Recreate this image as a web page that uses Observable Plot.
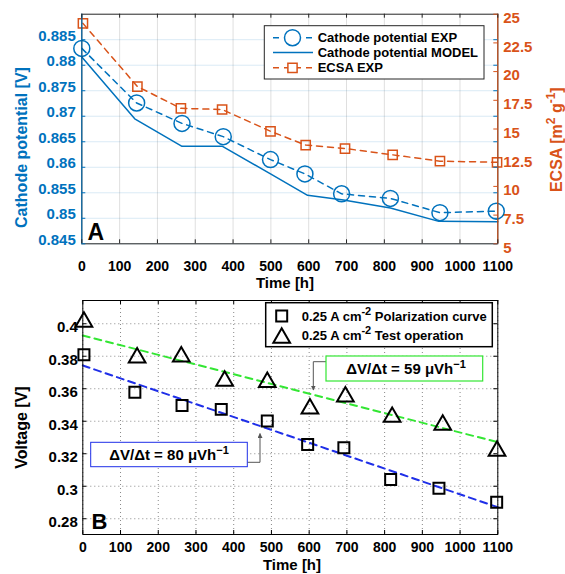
<!DOCTYPE html>
<html><head><meta charset="utf-8">
<script src="https://cdn.jsdelivr.net/npm/d3@7"></script>
<script src="https://cdn.jsdelivr.net/npm/@observablehq/plot@0.6"></script>
<style>
html,body{margin:0;padding:0;background:#fff;}
#wrap{width:565px;height:574px;overflow:hidden;}
#wrap svg{display:block;}
</style></head><body><div id="wrap"></div>
<script>
// ---------- Panel A data ----------
const xTicks = [0, 100, 200, 300, 400, 500, 600, 700, 800, 900, 1000, 1100];
const timeCathodeExp = [0, 145, 265, 374, 499, 590, 687, 816, 947, 1096];
const cathodeExp = [0.8833, 0.8726, 0.8686, 0.8660, 0.8615, 0.8587, 0.8548, 0.8539, 0.8511, 0.8514];
const timeModel = [0, 140, 265, 372, 499, 597, 692, 816, 944, 1100];
const cathodeModel = [0.8816, 0.8695, 0.8641, 0.8641, 0.8587, 0.8545, 0.8536, 0.8520, 0.8494, 0.8493];
const timeEcsa = [3, 147, 262, 371, 499, 592, 696, 822, 947, 1098];
const ecsaExp = [24.2, 18.7, 16.8, 16.7, 14.8, 13.6, 13.3, 12.75, 12.2, 12.1];
const leftTicksA = [0.845, 0.85, 0.855, 0.86, 0.865, 0.87, 0.875, 0.88, 0.885];
const leftTickLabelsA = ["0.845", "0.85", "0.855", "0.86", "0.865", "0.87", "0.875", "0.88", "0.885"];
const rightTicksA = [5, 7.5, 10, 12.5, 15, 17.5, 20, 22.5, 25];
const rightTickLabelsA = ["5", "7.5", "10", "12.5", "15", "17.5", "20", "22.5", "25"];
const legendLabelsA = ["Cathode potential EXP", "Cathode potential MODEL", "ECSA EXP"];

// ---------- Panel B data ----------
const timePol = [3, 138, 263, 367, 489, 596, 692, 816, 944, 1097];
const voltPol = [0.3809, 0.3579, 0.3497, 0.3473, 0.3401, 0.3257, 0.3237, 0.3042, 0.2988, 0.2902];
const timeTest = [3, 144, 261, 376, 489, 602, 696, 820, 954, 1098];
const voltTest = [0.4026, 0.3805, 0.3811, 0.3662, 0.3655, 0.3491, 0.3565, 0.3440, 0.3391, 0.3231];
const fitPolTime = [0, 1100];
const fitPolVolt = [0.3743, 0.2871];
const fitTestTime = [0, 1100];
const fitTestVolt = [0.3928, 0.3271];
const leftTicksB = [0.28, 0.30, 0.32, 0.34, 0.36, 0.38, 0.40];
const leftTickLabelsB = ["0.28", "0.3", "0.32", "0.34", "0.36", "0.38", "0.4"];
const slopeLabels = ["80", "59"];

// ---------- styling ----------
const BLUE = "#0072BD", ORANGE = "#D95319", DARK = "#262626";
const FONT = '"Liberation Sans", Arial, Helvetica, sans-serif';
const W = 565;
const xDomain = [0, 1100];
const leftDomainA = [0.845, 0.89];
const ecsaDomain = [5, 25];
const ecsaToV = d3.scaleLinear(ecsaDomain, leftDomainA);
const yDomainB = [0.2703, 0.4143];
const TL = 4;
const lookup = (ticks, labels) => d => labels[ticks.findIndex(t => Math.abs(t - d) < 1e-9)];

const A = {h: 290, ml: 81.3, mr: 67.7, mt: 13.7, mb: 46.7};
const aH = A.h - A.mt - A.mb, aW = W - A.ml - A.mr;

const A_exp = timeCathodeExp.map((t, i) => ({time: t, value: cathodeExp[i]}));
const A_model = timeModel.map((t, i) => ({time: t, value: cathodeModel[i]}));
const A_ecsa = timeEcsa.map((t, i) => ({time: t, value: ecsaToV(ecsaExp[i])}));
const rightTickPos = rightTicksA.map(ecsaToV);

const chartA = Plot.plot({
  width: W, height: A.h, marginLeft: A.ml, marginRight: A.mr, marginTop: A.mt, marginBottom: A.mb,
  style: {fontFamily: FONT, background: "white", overflow: "visible"},
  x: {domain: xDomain}, y: {domain: leftDomainA},
  marks: [
    Plot.gridX(xTicks, {stroke: DARK, strokeOpacity: 0.15}),
    Plot.gridY(leftTicksA, {stroke: BLUE, strokeOpacity: 0.15}),
    Plot.line(A_ecsa, {x: "time", y: "value", stroke: ORANGE, strokeWidth: 1.5, strokeDasharray: "6,5"}),
    Plot.dot(A_ecsa, {x: "time", y: "value", symbol: "square", r: 5.2, stroke: ORANGE, strokeWidth: 1.5, fill: "none"}),
    Plot.line(A_exp, {x: "time", y: "value", stroke: BLUE, strokeWidth: 1.5, strokeDasharray: "6,5"}),
    Plot.dot(A_exp, {x: "time", y: "value", r: 8, stroke: BLUE, strokeWidth: 1.5, fill: "none"}),
    Plot.line(A_model, {x: "time", y: "value", stroke: BLUE, strokeWidth: 1.5}),
    Plot.frame({stroke: DARK}),
    Plot.ruleX([xDomain[0]], {stroke: BLUE}),
    Plot.ruleX([xDomain[1]], {stroke: ORANGE}),
    Plot.tickX(xTicks, {x: d => d, stroke: DARK, insetTop: aH - TL}),
    Plot.tickX(xTicks, {x: d => d, stroke: DARK, insetBottom: aH - TL}),
    Plot.tickY(leftTicksA, {y: d => d, stroke: BLUE, insetRight: aW - TL}),
    Plot.tickY(leftTicksA, {y: d => d, stroke: BLUE, insetLeft: aW - TL}),
    Plot.tickY(rightTickPos, {y: d => d, stroke: ORANGE, insetLeft: aW - TL}),
    Plot.axisX(xTicks, {tickSize: 0, tickPadding: 17.5, fontSize: 14, fontWeight: "bold", color: "black", label: null, tickFormat: d => String(d)}),
    Plot.axisY(leftTicksA, {anchor: "left", tickSize: 0, tickPadding: 6, fontSize: 15, fontWeight: "bold", color: BLUE, dy: -4, label: null, tickFormat: lookup(leftTicksA, leftTickLabelsA)}),
    Plot.axisY(rightTickPos, {anchor: "right", tickSize: 0, tickPadding: 5.4, fontSize: 15, fontWeight: "bold", color: ORANGE, dy: 4, label: null, tickFormat: lookup(rightTickPos, rightTickLabelsA)})
  ]
});

// ---------- Panel B ----------
const B = {h: 284, ml: 82.3, mr: 67.7, mt: 10, mb: 40};
const bH = B.h - B.mt - B.mb, bW = W - B.ml - B.mr;
const B_pol = timePol.map((t, i) => ({time: t, value: voltPol[i]}));
const B_test = timeTest.map((t, i) => ({time: t, value: voltTest[i]}));
const B_fitPol = fitPolTime.map((t, i) => ({time: t, value: fitPolVolt[i]}));
const B_fitTest = fitTestTime.map((t, i) => ({time: t, value: fitTestVolt[i]}));
const FIT_BLUE = "#1f2fe8", FIT_GREEN = "#33e633";

const chartB = Plot.plot({
  width: W, height: B.h, marginLeft: B.ml, marginRight: B.mr, marginTop: B.mt, marginBottom: B.mb,
  style: {fontFamily: FONT, background: "white", overflow: "visible"},
  x: {domain: xDomain}, y: {domain: yDomainB},
  marks: [
    Plot.gridX(xTicks, {stroke: "#555", strokeOpacity: 0.7, strokeDasharray: "1,3"}),
    Plot.gridY(leftTicksB, {stroke: "#555", strokeOpacity: 0.7, strokeDasharray: "1,3"}),
    Plot.line(B_fitTest, {x: "time", y: "value", stroke: FIT_GREEN, strokeWidth: 2, strokeDasharray: "7,5"}),
    Plot.line(B_fitPol, {x: "time", y: "value", stroke: FIT_BLUE, strokeWidth: 2, strokeDasharray: "7,5"}),
    Plot.dot(B_pol, {x: "time", y: "value", symbol: "square", r: 6.2, stroke: "black", strokeWidth: 2, fill: "none"}),
    Plot.dot(B_test, {x: "time", y: "value", symbol: "triangle", r: 6.2, dy: 2.3, stroke: "black", strokeWidth: 2, fill: "none"}),
    Plot.frame({stroke: "black"}),
    Plot.tickX(xTicks, {x: d => d, stroke: "black", insetTop: bH - TL}),
    Plot.tickX(xTicks, {x: d => d, stroke: "black", insetBottom: bH - TL}),
    Plot.tickY(leftTicksB, {y: d => d, stroke: "black", insetRight: bW - TL}),
    Plot.tickY(leftTicksB, {y: d => d, stroke: "black", insetLeft: bW - TL}),
    Plot.axisX(xTicks, {tickSize: 0, tickPadding: 7.5, fontSize: 14, fontWeight: "bold", color: "black", label: null, tickFormat: d => String(d)}),
    Plot.axisY(leftTicksB, {anchor: "left", tickSize: 0, tickPadding: 5, fontSize: 15, fontWeight: "bold", color: "black", dy: 3.5, label: null, tickFormat: lookup(leftTicksB, leftTickLabelsB)})
  ]
});

const wrap = document.getElementById("wrap");
wrap.appendChild(chartA);
wrap.appendChild(chartB);

// ---------- decorations A ----------
function addText(g, o) {
  const t = g.append("text")
    .attr("font-family", FONT).attr("font-weight", "bold")
    .attr("font-size", o.size).attr("fill", o.fill || "black")
    .attr("text-anchor", o.anchor || "start")
    .attr("transform", `translate(${o.x},${o.y})` + (o.rotate ? ` rotate(${o.rotate})` : ""));
  o.parts.forEach(p => {
    const ts = t.append("tspan").text(p.t);
    if (p.sup) ts.attr("dy", -p.sup).attr("font-size", p.supSize || o.size * 0.75);
    if (p.down) ts.attr("dy", p.down);
  });
  return t;
}
const sA = d3.select(chartA).append("g");
addText(sA, {x: 26.5, y: 147.5, size: 16, fill: BLUE, anchor: "middle", rotate: -90, parts: [{t: "Cathode potential [V]"}]});
addText(sA, {x: 562, y: 139.7, size: 16, fill: ORANGE, anchor: "middle", rotate: -90,
  parts: [{t: "ECSA [m"}, {t: "2", sup: 7, supSize: 12}, {t: " g", down: 7}, {t: "-1", sup: 7, supSize: 12}, {t: "]", down: 7}]});
addText(sA, {x: 285, y: 288, size: 15, anchor: "middle", parts: [{t: "Time [h]"}]});
addText(sA, {x: 87.5, y: 239.5, size: 23, parts: [{t: "A"}]});

// legend A
const lgA = sA.append("g");
lgA.append("rect").attr("x", 264.3).attr("y", 25.7).attr("width", 219.7).attr("height", 53.3)
  .attr("fill", "white").attr("stroke", DARK).attr("stroke-width", 1);
const rowsA = [
  {y: 37.7, color: BLUE, dash: "6,5", sym: "circle"},
  {y: 52.6, color: BLUE, dash: null, sym: null},
  {y: 67.8, color: ORANGE, dash: "6,5", sym: "square"}
];
rowsA.forEach((r, i) => {
  lgA.append("line").attr("x1", 273).attr("x2", 313).attr("y1", r.y).attr("y2", r.y)
    .attr("stroke", r.color).attr("stroke-width", 1.5).attr("stroke-dasharray", r.dash);
  if (r.sym === "circle") lgA.append("circle").attr("cx", 292.5).attr("cy", r.y).attr("r", 8)
    .attr("fill", "white").attr("stroke", r.color).attr("stroke-width", 1.5);
  if (r.sym === "square") lgA.append("path").attr("transform", `translate(292.5,${r.y})`)
    .attr("d", d3.symbol(d3.symbolSquare, Math.PI * 5.2 * 5.2)()).attr("fill", "white").attr("stroke", r.color).attr("stroke-width", 1.5);
  addText(lgA, {x: 317.7, y: r.y + 4.6, size: 13, parts: [{t: legendLabelsA[i]}]});
});

// ---------- decorations B ----------
const sB = d3.select(chartB).append("g");
addText(sB, {x: 26.5, y: 137.5, size: 16, anchor: "middle", rotate: -90, parts: [{t: "Voltage [V]"}]});
addText(sB, {x: 292, y: 280, size: 15, anchor: "middle", parts: [{t: "Time [h]"}]});
addText(sB, {x: 91.5, y: 238.5, size: 22, parts: [{t: "B"}]});

const lgB = sB.append("g");
lgB.append("rect").attr("x", 265.7).attr("y", 12.7).attr("width", 226.6).attr("height", 44)
  .attr("fill", "white").attr("stroke", "black").attr("stroke-width", 1.5);
lgB.append("path").attr("transform", "translate(281.7,26)")
  .attr("d", d3.symbol(d3.symbolSquare, Math.PI * 6.2 * 6.2)()).attr("fill", "none").attr("stroke", "black").attr("stroke-width", 2);
lgB.append("path").attr("transform", "translate(281.7,48)")
  .attr("d", d3.symbol(d3.symbolTriangle, Math.PI * 6.2 * 6.2)()).attr("fill", "none").attr("stroke", "black").attr("stroke-width", 2);
addText(lgB, {x: 301.7, y: 30.6, size: 13, parts: [{t: "0.25 A cm"}, {t: "-2", sup: 6, supSize: 11}, {t: " Polarization curve", down: 6}]});
addText(lgB, {x: 301.7, y: 50.3, size: 13, parts: [{t: "0.25 A cm"}, {t: "-2", sup: 6, supSize: 11}, {t: " Test operation", down: 6}]});

// annotations
const ann = sB.append("g");
const defs = d3.select(chartB).append("defs");
defs.append("marker").attr("id", "arrB").attr("viewBox", "0 0 10 10").attr("refX", 9).attr("refY", 5)
  .attr("markerWidth", 5).attr("markerHeight", 5).attr("orient", "auto")
  .append("path").attr("d", "M0,0 L10,5 L0,10 z").attr("fill", "#555");
ann.append("path").attr("d", "M247.3,172.3 H260 V143.5").attr("fill", "none").attr("stroke", "#555").attr("stroke-width", 1).attr("marker-end", "url(#arrB)");
ann.append("rect").attr("x", 90.7).attr("y", 152.3).attr("width", 156.6).attr("height", 24.4)
  .attr("fill", "white").attr("stroke", FIT_BLUE).attr("stroke-width", 1);
addText(ann, {x: 169, y: 170, size: 15, anchor: "middle", parts: [{t: "ΔV/Δt = " + slopeLabels[0] + " μVh"}, {t: "−1", sup: 6, supSize: 11}]});

ann.append("path").attr("d", "M326,71.7 H313.3 V100").attr("fill", "none").attr("stroke", "#555").attr("stroke-width", 1).attr("marker-end", "url(#arrB)");
ann.append("rect").attr("x", 326).attr("y", 66).attr("width", 156.7).attr("height", 25)
  .attr("fill", "white").attr("stroke", FIT_GREEN).attr("stroke-width", 1.2);
addText(ann, {x: 406, y: 84, size: 15, anchor: "middle", parts: [{t: "ΔV/Δt = " + slopeLabels[1] + " μVh"}, {t: "−1", sup: 6, supSize: 11}]});
</script></body></html>
